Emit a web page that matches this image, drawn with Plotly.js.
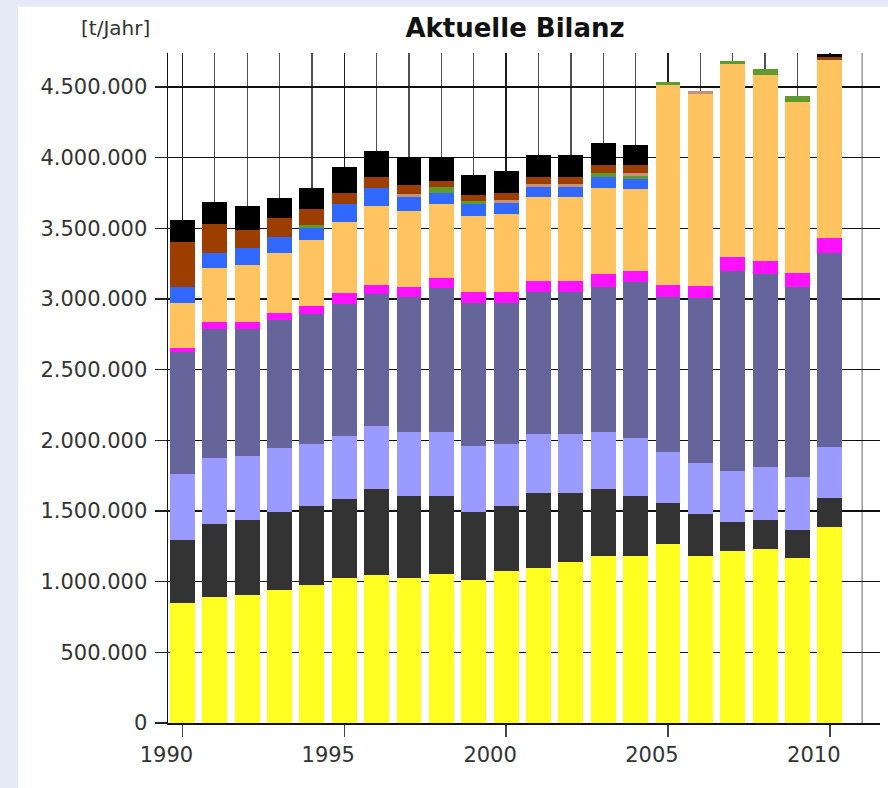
<!DOCTYPE html>
<html>
<head>
<meta charset="utf-8">
<script src="https://cdn.plot.ly/plotly-3.0.1.min.js"></script>
<style>
  html, body { margin: 0; padding: 0; background: #e6e9f6; }
  #chart { width: 888px; height: 788px; }
</style>
</head>
<body>
<div id="chart"></div>
<script>
// ---- Data (t/Jahr) ----
const years = [1990, 1991, 1992, 1993, 1994, 1995, 1996, 1997, 1998, 1999, 2000,
               2001, 2002, 2003, 2004, 2005, 2006, 2007, 2008, 2009, 2010];

const sYellow   = [850000, 893000, 907000, 942000, 978000, 1027000, 1048000, 1027000, 1055000, 1013000, 1077000,
                   1098000, 1140000, 1183000, 1183000, 1267000, 1183000, 1218000, 1232000, 1169000, 1388000];
const sDarkGray = [446000, 516000, 530000, 552000, 558000, 556000, 606000, 580000, 552000, 481000, 459000,
                   528000, 486000, 471000, 426000, 288000, 297000, 205000, 205000, 197000, 207000];
const sLavender = [466000, 464000, 453000, 450000, 438000, 450000, 448000, 450000, 450000, 466000, 438000,
                   417000, 417000, 403000, 406000, 361000, 362000, 361000, 377000, 373000, 360000];
const sSlate    = [865000, 912000, 895000, 907000, 919000, 931000, 933000, 959000, 1018000, 1013000, 999000,
                   1008000, 1008000, 1029000, 1106000, 1095000, 1162000, 1415000, 1362000, 1347000, 1372000];
const sMagenta  = [23000, 54000, 54000, 47000, 57000, 80000, 63000, 70000, 71000, 78000, 78000,
                   78000, 78000, 88000, 78000, 87000, 90000, 99000, 94000, 99000, 101000];
const sOrange   = [319000, 377000, 401000, 429000, 466000, 502000, 559000, 538000, 525000, 535000, 549000,
                   589000, 589000, 612000, 576000, 1414000, 1359000, 1363000, 1315000, 1209000, 1262000];
const sBlue     = [117000, 106000, 118000, 113000, 83000, 125000, 125000, 99000, 76000, 85000, 80000,
                   75000, 75000, 74000, 71000, 0, 0, 0, 0, 0, 0];
const sGreen    = [0, 0, 0, 0, 23000, 0, 0, 0, 46000, 19000, 0,
                   0, 0, 32000, 23000, 24000, 0, 21000, 40000, 42000, 0];
const sRose     = [0, 0, 0, 0, 0, 0, 0, 22000, 0, 0, 20000,
                   19000, 19000, 0, 19000, 0, 17000, 0, 0, 0, 0];
const sBrown    = [318000, 207000, 129000, 130000, 111000, 76000, 82000, 60000, 43000, 44000, 47000,
                   52000, 52000, 54000, 58000, 0, 0, 0, 0, 0, 22000];
const sBlack    = [154000, 158000, 170000, 146000, 153000, 183000, 182000, 196000, 165000, 142000, 157000,
                   153000, 153000, 158000, 142000, 0, 0, 0, 0, 0, 23000];

const xTickVals = [1990, 1995, 2000, 2005, 2010];
const yTickVals = [0, 500000, 1000000, 1500000, 2000000, 2500000, 3000000, 3500000, 4000000, 4500000];
const minorYears = years.filter(y => y % 5 !== 0);

// ---- Traces ----
const series = [
  {name: 'Serie 1',  values: sYellow,   color: '#ffff22'},
  {name: 'Serie 2',  values: sDarkGray, color: '#333333'},
  {name: 'Serie 3',  values: sLavender, color: '#9a9aff'},
  {name: 'Serie 4',  values: sSlate,    color: '#65659b'},
  {name: 'Serie 5',  values: sMagenta,  color: '#ff10ff'},
  {name: 'Serie 6',  values: sOrange,   color: '#ffc35f'},
  {name: 'Serie 7',  values: sBlue,     color: '#3168ff'},
  {name: 'Serie 8',  values: sGreen,    color: '#5e9a2e'},
  {name: 'Serie 9',  values: sRose,     color: '#c8907a'},
  {name: 'Serie 10', values: sBrown,    color: '#9c3e00'},
  {name: 'Serie 11', values: sBlack,    color: '#000000'}
];

const traces = series.map(s => ({
  type: 'bar',
  x: years,
  y: s.values,
  name: s.name,
  marker: {color: s.color, line: {width: 0}},
  showlegend: false,
  hoverinfo: 'skip'
}));

const tickFont = {family: 'DejaVu Sans', size: 21, color: '#333333'};

const layout = {
  width: 888,
  height: 788,
  margin: {l: 168, r: 8, t: 53, b: 65, pad: 0},
  paper_bgcolor: '#e6e9f6',
  plot_bgcolor: 'rgba(0,0,0,0)',
  barmode: 'stack',
  bargap: 0.23,
  separators: ',.',
  hovermode: false,
  title: {
    text: 'Aktuelle Bilanz',
    font: {family: 'DejaVu Sans', size: 26, weight: 700, color: '#111111'},
    xref: 'container', yref: 'container',
    x: 0.58, xanchor: 'center',
    y: 0.964, yanchor: 'middle'
  },
  xaxis: {
    range: [1989.555, 2011.55],
    tickmode: 'array',
    tickvals: xTickVals,
    ticks: 'outside',
    ticklen: 12,
    tickwidth: 1.5,
    tickcolor: '#444444',
    ticklabelshift: -16,
    tickfont: tickFont,
    showline: true,
    linecolor: '#111111',
    linewidth: 1.5,
    showgrid: true,
    gridcolor: '#1e1e1e',
    gridwidth: 1.5,
    zeroline: false,
    minor: {
      tickmode: 'array',
      tickvals: minorYears,
      ticks: '',
      showgrid: true,
      gridcolor: '#505050',
      gridwidth: 1.3
    }
  },
  yaxis: {
    range: [0, 4740000],
    tickmode: 'array',
    tickvals: yTickVals,
    tickformat: ',d',
    ticks: 'outside',
    ticklen: 12,
    tickwidth: 1.5,
    tickcolor: '#222222',
    ticklabelstandoff: 3,
    tickfont: tickFont,
    showline: true,
    linecolor: '#111111',
    linewidth: 1.5,
    showgrid: true,
    gridcolor: '#111111',
    gridwidth: 1.5,
    zeroline: false
  },
  shapes: [
    {type: 'rect', xref: 'paper', yref: 'paper', x0: -0.2107, x1: 1.02, y0: -0.1, y1: 1.069,
     fillcolor: '#ffffff', line: {width: 0}, layer: 'below'},
    {type: 'line', xref: 'x', yref: 'paper', x0: 2011, x1: 2011, y0: 0, y1: 1,
     line: {color: '#9a9a9a', width: 1.5}, layer: 'below'}
  ],
  annotations: [
    {text: '[t/Jahr]', xref: 'paper', yref: 'paper', x: -0.022, y: 1.038,
     xanchor: 'right', yanchor: 'middle', showarrow: false,
     font: {family: 'DejaVu Sans', size: 20, color: '#333333'}}
  ]
};

Plotly.newPlot('chart', traces, layout, {displayModeBar: false, staticPlot: true});
</script>
</body>
</html>
